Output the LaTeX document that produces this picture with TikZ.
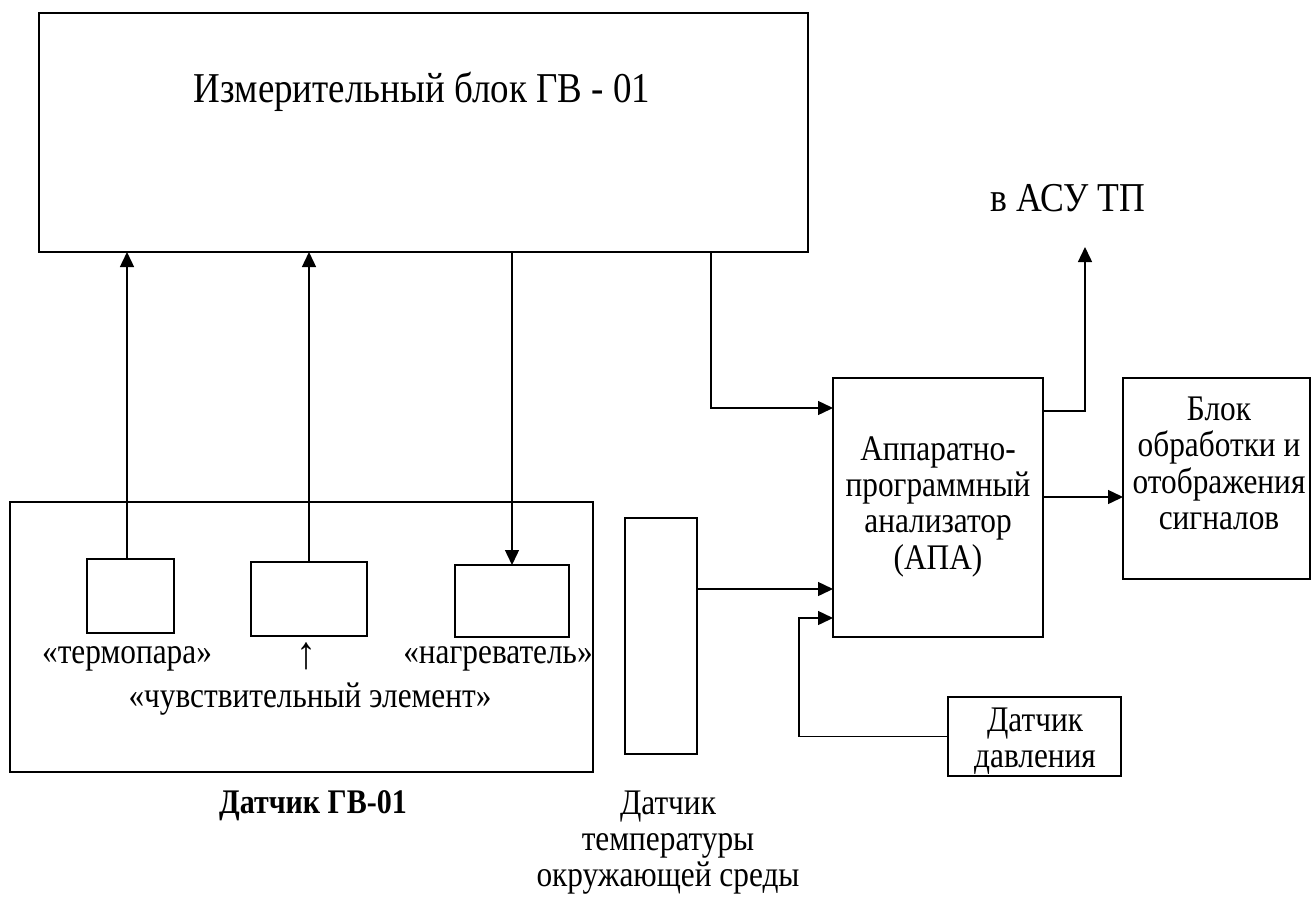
\documentclass[tikz,border=0pt]{standalone}
\usepackage{fontspec}
\setmainfont{Liberation Serif}[FakeStretch=0.87]
\usetikzlibrary{arrows.meta}
\newcommand{\mlines}[1]{\begin{tabular}[t]{@{}c@{}}#1\end{tabular}}
\newcommand{\bodyfont}{\fontsize{36}{36.4}\selectfont}
\newcommand{\bigfont}{\fontsize{42.5}{48}\selectfont}
\begin{document}
\begin{tikzpicture}[x=1pt,y=-1pt,
  box/.style={draw, line width=1.6pt, inner sep=0pt, outer sep=0pt},
  conn/.style={line width=1.4pt},
  arr/.style={conn, -{Triangle[length=15pt,width=14pt]}},
  lbl/.style={anchor=base, inner sep=0pt, font=\bodyfont}
]
\useasboundingbox (0,0) rectangle (1313,897);

% boxes
\node[box, minimum width=769pt, minimum height=239pt] (meas) at (423.5,132.5) {};
\node[box, minimum width=583pt, minimum height=270pt] (gv) at (301.5,637) {};
\node[box, minimum width=87pt, minimum height=74pt] (tc) at (130.5,596) {};
\node[box, minimum width=116pt, minimum height=74pt] (se) at (309,599) {};
\node[box, minimum width=114pt, minimum height=72pt] (ht) at (512,601) {};
\node[box, minimum width=72pt, minimum height=236pt] (ts) at (661,636) {};
\node[box, minimum width=210pt, minimum height=259pt] (apa) at (938,507.5) {};
\node[box, minimum width=187pt, minimum height=201pt] (blk) at (1216.5,478.5) {};
\node[box, minimum width=173pt, minimum height=79pt] (pr) at (1034.5,736.5) {};

% texts
\node[anchor=base, inner sep=0pt, font=\bigfont] (title) at (422,102) {Измерительный блок ГВ - 01};
\node[anchor=base, inner sep=0pt, font=\fontsize{41}{46}\selectfont] (asu) at (1068,211) {в АСУ ТП};
\node[lbl] (tclbl) at (127,663) {«термопара»};
\node[anchor=base, inner sep=0pt, font=\fontsize{46}{50}\selectfont] (selarr) at (307,668) {↑};
\node[lbl] (htlbl) at (498,663) {«нагреватель»};
\node[lbl] (selbl) at (310,707) {«чувствительный элемент»};
\node[anchor=base, inner sep=0pt, font=\fontsize{34.5}{40}\selectfont\bfseries] (gvlbl) at (313,813) {Датчик ГВ-01};
\node[lbl] (tslbl) at (668,814) {\mlines{Датчик\\температуры\\окружающей среды}};
\node[lbl] (prlbl) at (1035,731) {\mlines{Датчик\\давления}};
\node[lbl] (apalbl) at (938,460) {\mlines{Аппаратно-\\программный\\анализатор\\(АПА)}};
\node[lbl] (blklbl) at (1219,420) {\mlines{Блок\\обработки и\\отображения\\сигналов}};

\coordinate (asuend) at (1085,247);

% connectors
\draw[arr] ([xshift=-3.5pt]tc.north) -- ([xshift=-3.5pt]tc.north |- meas.south);
\draw[arr] (se.north) -- (se.north |- meas.south);
\draw[arr] (ht.north |- meas.south) -- (ht.north);
\draw[arr] ([xshift=287.5pt]meas.south) |- ([yshift=99.5pt]apa.west);
\draw[arr] ([yshift=96.5pt]apa.east) -| (asuend);
\draw[arr] ([yshift=10.5pt]apa.east) -- ([yshift=10.5pt]apa.east -| blk.west);
\draw[arr] ([yshift=47pt]ts.east) -- ([yshift=47pt]ts.east -| apa.west);
\draw[arr] (pr.west) -- ++(-149,0) |- ([yshift=-110.5pt]apa.west);
\end{tikzpicture}
\end{document}
